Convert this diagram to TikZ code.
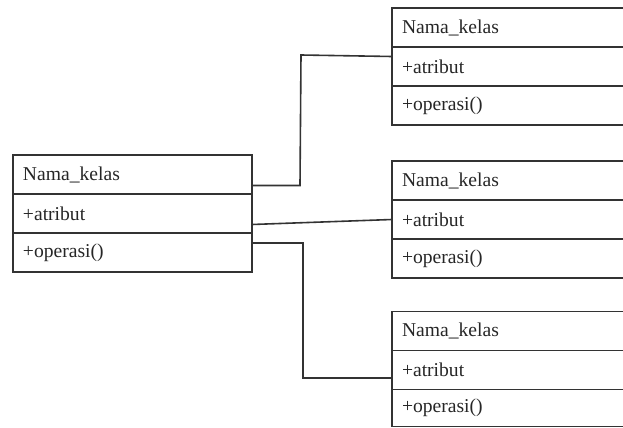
\documentclass[tikz,border=0pt]{standalone}
\usepackage{fontspec}
\setmainfont{Liberation Serif}
\usetikzlibrary{positioning}

\begin{document}
\begin{tikzpicture}[x=0.5pt, y=-0.5pt]
		\tikzset{row/.style = {shape=rectangle, draw=black!80, line width=0.9pt, outer sep=0pt,
				inner xsep=5pt, inner ysep=0pt, text width=109.5pt, minimum height=19.5pt,
				align=left, text=black!85, font=\fontsize{9.8}{11}\selectfont}}
		\tikzset{link/.style = {draw=black!80, line width=0.8pt}}

		\useasboundingbox (0,0) rectangle (623,428);
		\clip (0,0) rectangle (623,428);

		% kelas kiri
		\node[row] (K_n) at (132.5,174.5) {Nama\_kelas};
		\node[row, below=0pt of K_n] (K_a) {+atribut};
		\node[row, below=0pt of K_a] (K_o) {+operasi()};

		% kelas kanan atas
		\node[row] (A_n) at (511.5,27.5) {Nama\_kelas};
		\node[row, below=0pt of A_n] (A_a) {+atribut};
		\node[row, below=0pt of A_a] (A_o) {+operasi()};

		% kelas kanan tengah
		\node[row] (B_n) at (511.5,180.5) {Nama\_kelas};
		\node[row, below=0pt of B_n] (B_a) {+atribut};
		\node[row, below=0pt of B_a] (B_o) {+operasi()};

		% kelas kanan bawah
		\node[row] (C_n) at (511.5,331) {Nama\_kelas};
		\node[row, below=0pt of C_n] (C_a) {+atribut};
		\node[row, below=0pt of C_a, minimum height=18.5pt] (C_o) {+operasi()};


		\draw[link] ([yshift=-5.5pt]K_n.east) -- ++(48,0) -- (301,55) -- ([yshift=5pt]A_a.west);
		\draw[link] ([yshift=-5.5pt]K_a.east) -- (B_a.west);
		\draw[link] ([yshift=4.75pt]K_o.east) -- ++(51,0) |- ([yshift=-4pt]C_a.west);

	\end{tikzpicture}
\end{document}
